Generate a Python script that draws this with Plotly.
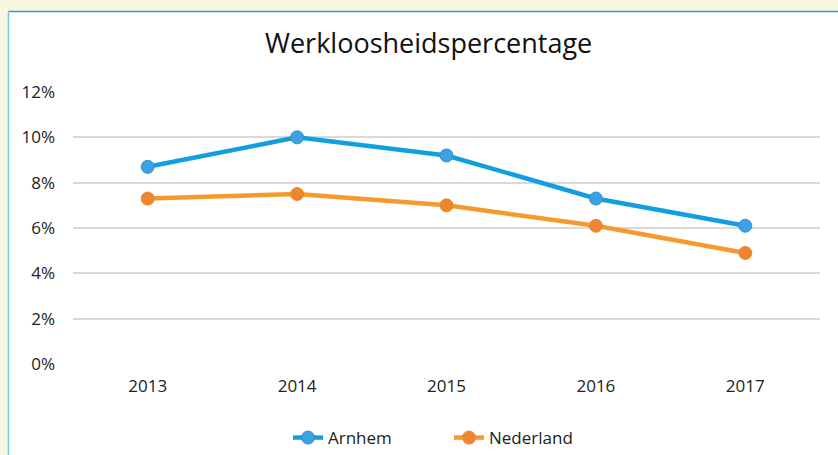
import plotly.graph_objects as go

years = ["2013", "2014", "2015", "2016", "2017"]
arnhem = [8.7, 10.0, 9.2, 7.3, 6.1]
nederland = [7.3, 7.5, 7.0, 6.1, 4.9]
y_ticks = [0, 2, 4, 6, 8, 10, 12]
y_labels = [f"{v}%" for v in y_ticks]

FONT = "Open Sans"
BG = "#F7F7E2"

fig = go.Figure()
fig.add_trace(go.Scatter(
    x=years, y=arnhem, name="Arnhem", mode="lines+markers",
    line=dict(color="#129FE0", width=4.5),
    marker=dict(size=13, color="#3AA3E6", line=dict(color="#3B8FC4", width=1)),
))
fig.add_trace(go.Scatter(
    x=years, y=nederland, name="Nederland", mode="lines+markers",
    line=dict(color="#F79A2E", width=4.5),
    marker=dict(size=13, color="#F0852F", line=dict(color="#E58A3A", width=1)),
))

W, H = 838, 455
L, R, T, B = 73, 18, 92, 91
pw, ph = W - L - R, H - T - B

def px_to_paper_x(px):
    return (px - L) / pw

def px_to_paper_y(py):
    return (H - B - py) / ph

shapes = [
    dict(type="rect", xref="paper", yref="paper",
         x0=px_to_paper_x(9), x1=px_to_paper_x(W + 20),
         y0=px_to_paper_y(H + 20), y1=px_to_paper_y(12),
         fillcolor="white", line=dict(width=0), layer="below"),
    dict(type="line", xref="paper", yref="paper",
         x0=px_to_paper_x(8), x1=px_to_paper_x(W + 20),
         y0=px_to_paper_y(11.5), y1=px_to_paper_y(11.5),
         line=dict(color="#2A9AD4", width=1.5), layer="below"),
    dict(type="line", xref="paper", yref="paper",
         x0=px_to_paper_x(8.5), x1=px_to_paper_x(8.5),
         y0=px_to_paper_y(11), y1=px_to_paper_y(H + 20),
         line=dict(color="#7CC4EA", width=1.5), layer="below"),
]

fig.update_layout(
    width=W, height=H,
    margin=dict(l=L, r=R, t=T, b=B, autoexpand=False),
    paper_bgcolor=BG,
    plot_bgcolor="rgba(0,0,0,0)",
    font=dict(family=FONT, color="#222222", size=17),
    title=dict(text="Werkloosheidspercentage", x=0.5115, xanchor="center",
               y=1 - 44 / H, yanchor="middle", yref="container",
               font=dict(size=27, family=FONT, color="#111111")),
    xaxis=dict(range=[-0.5, 4.5], showgrid=False, zeroline=False,
               showline=False, ticks="", ticklabelstandoff=10,
               tickfont=dict(size=17)),
    yaxis=dict(range=[0, 12], tickvals=y_ticks, ticktext=y_labels,
               showgrid=True, gridcolor="#D9D9D9", gridwidth=1.5,
               zeroline=False, showline=False, ticks="",
               ticklabelstandoff=17, tickfont=dict(size=17)),
    legend=dict(orientation="h", x=449 / W, xanchor="center", xref="container",
                y=1 - 438 / H, yanchor="middle", yref="container",
                font=dict(size=17), bgcolor="rgba(0,0,0,0)",
                entrywidth=116, entrywidthmode="pixels",
                tracegroupgap=0),
    shapes=shapes,
    showlegend=True,
)

post = ("document.body.style.margin='0';document.body.style.padding='0';"
        "document.body.style.background='%s';document.body.style.overflow='hidden';" % BG)
fig.write_html("out.html", post_script=post, config={"displayModeBar": False})
